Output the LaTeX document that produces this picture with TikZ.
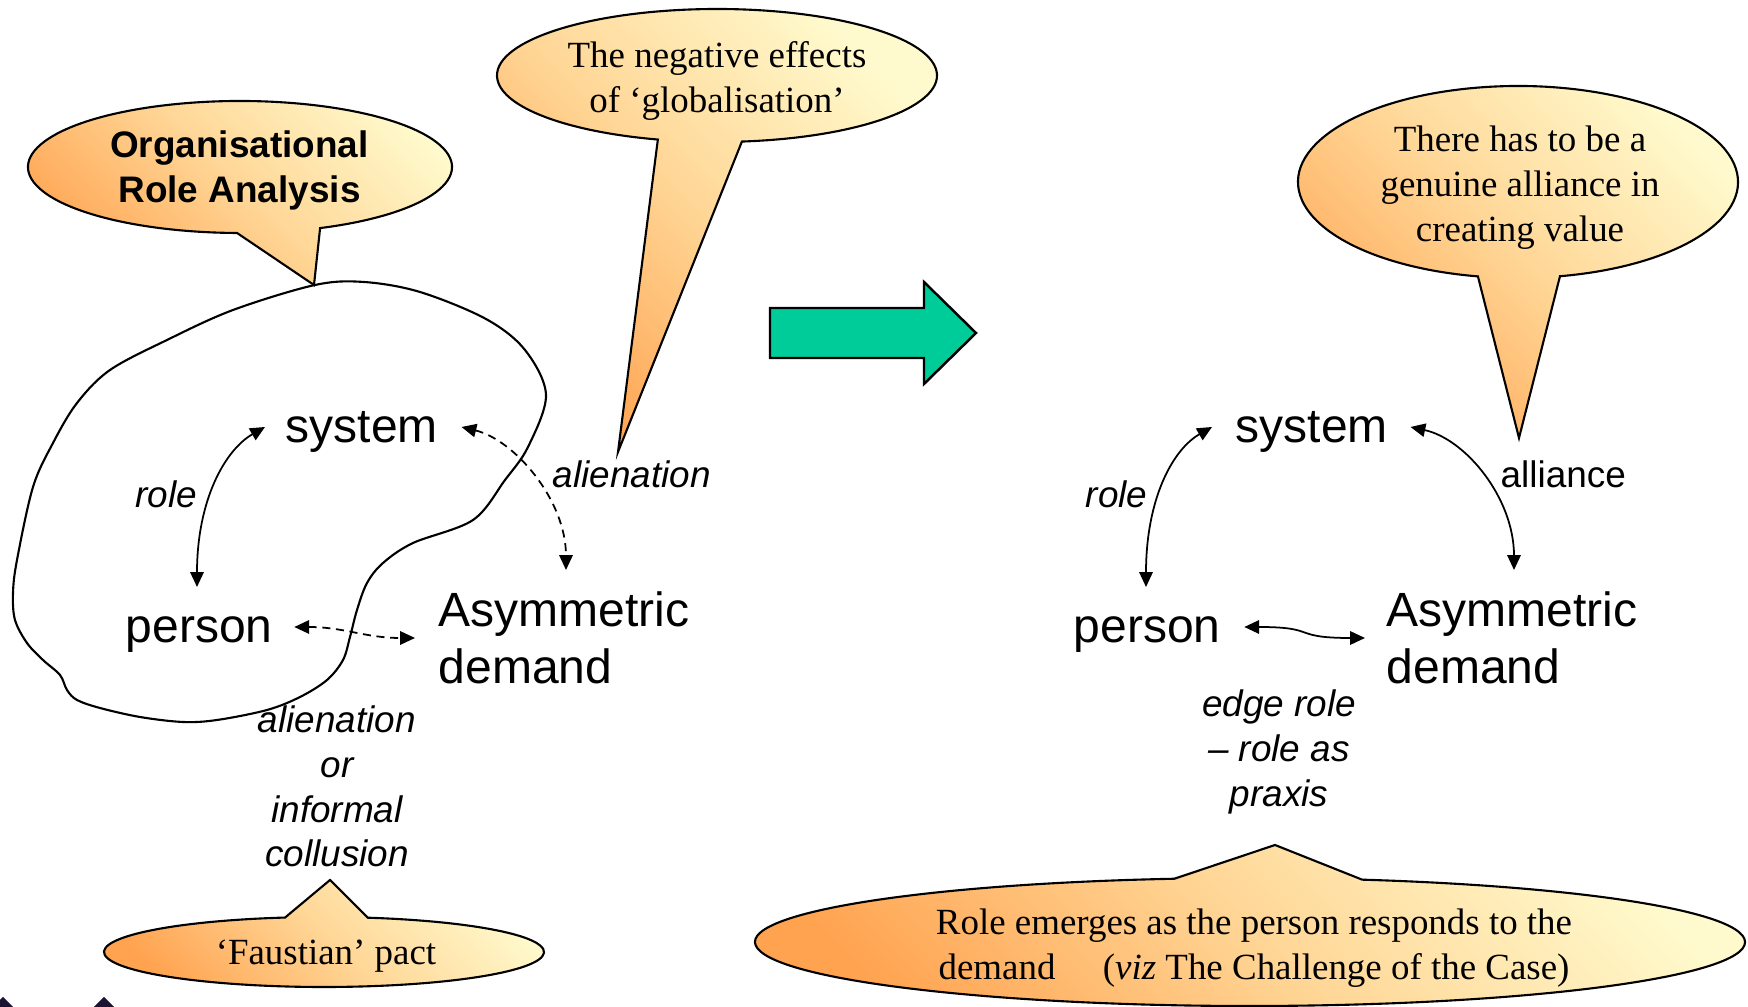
\documentclass[tikz,border=0pt]{standalone}
\usepackage{fontspec}
\setmainfont{Liberation Serif}
\setsansfont{Liberation Sans}
\usetikzlibrary{arrows.meta,calc}

\definecolor{calloutdeep}{RGB}{255,163,80}
\definecolor{calloutmid}{RGB}{255,214,150}
\definecolor{calloutpale}{RGB}{255,250,205}
\definecolor{shiftgreen}{RGB}{0,204,153}
\definecolor{logoink}{RGB}{28,20,51}

\newcommand{\notesize}{\fontsize{10.5}{12.66}\selectfont}
\newcommand{\wordsize}{\fontsize{13.66}{15.93}\selectfont}
\newcommand{\centredlines}[1]{\begin{tabular}[t]{@{}c@{}}#1\end{tabular}}
\newcommand{\leftlines}[1]{\begin{tabular}[t]{@{}l@{}}#1\end{tabular}}

\tikzset{
  callout/.style={draw=black, line width=0.6pt,
    bottom color=calloutdeep, top color=calloutpale, middle color=calloutmid,
    shading angle=-45},
  bubbletext/.style={font=\notesize, inner sep=0pt, anchor=base},
  word/.style={font=\sffamily\wordsize, inner sep=0pt, anchor=base west},
  note/.style={font=\sffamily\itshape\notesize, inner sep=0pt},
  blob/.style={draw=black, line width=0.6pt},
  link/.style={line width=0.5pt,
    {Triangle[length=4.2pt,width=3.8pt]}-{Triangle[length=4.2pt,width=3.8pt]}},
  dashlink/.style={link, dash pattern=on 2.3pt off 1.6pt},
  shiftarrow/.style={draw=black, line width=0.7pt, fill=shiftgreen, line join=miter},
}

\begin{document}
\begin{tikzpicture}[x=0.01cm, y=0.01cm]
\fill[white] (0,0) rectangle (1748,-1007);
\useasboundingbox (0,0) rectangle (1748,-1007);

% boundary of the organisational role
\draw[blob] plot[smooth cycle, tension=0.55] coordinates {
  (315,-285) (364,-282) (420,-292) (486,-319) (525,-350) (546,-395)
  (528,-447) (505,-480) (473,-520) (413,-543) (383,-563) (367,-583)
  (357,-610) (350,-637) (343,-660) (327,-680) (300,-697) (267,-710)
  (217,-720) (183,-722) (140,-717) (100,-708) (77,-700) (67,-690)
  (60,-675) (43,-660) (27,-643) (15,-620) (13,-593) (17,-560)
  (33,-487) (53,-443) (77,-403) (110,-370) (167,-340) (233,-310)};

% speech bubbles
\shade[callout] (240,-167) ++(292.2:212 and 66)
  arc[start angle=292.2, end angle=629.2, x radius=212, y radius=66]
  -- (314,-285) -- cycle;
\shade[callout] (717,-75.5) ++(276.5:220 and 66.5)
  arc[start angle=276.5, end angle=614.4, x radius=220, y radius=66.5]
  -- (618,-452) -- cycle;
\shade[callout] (1518,-182) ++(281:220 and 96)
  arc[start angle=281, end angle=619.5, x radius=220, y radius=96]
  -- (1519,-438) -- cycle;
\shade[callout] (324,-952) ++(100.2:220 and 35)
  arc[start angle=100.2, end angle=438.5, x radius=220, y radius=35]
  -- (330,-880) -- cycle;
\shade[callout] (1250,-942) ++(98.8:495 and 64)
  arc[start angle=98.8, end angle=436.9, x radius=495, y radius=64]
  -- (1275,-845) -- cycle;

\node[bubbletext, font=\sffamily\bfseries\notesize] (oraText) at (239.5,-158)
  {\centredlines{Organisational\\Role Analysis}};
\node[bubbletext] (globText) at (717,-68)
  {\centredlines{The negative effects\\of ‘globalisation’}};
\node[bubbletext] (allianceText) at (1520,-152)
  {\centredlines{There has to be a\\genuine alliance in\\creating value}};
\node[bubbletext] (faustText) at (326,-965) {‘Faustian’ pact};
\node[bubbletext] (emergeText) at (1254,-935)
  {\centredlines{Role emerges as the person responds to the\\
   demand\hspace{13.5pt}(\textit{viz} The Challenge of the Case)}};

% transition arrow
\draw[shiftarrow] (770,-308) -- (924,-308) -- (924,-282) -- (976,-333)
  -- (924,-384) -- (924,-358) -- (770,-358) -- cycle;

% left diagram
\node[word] (sysL) at (285,-443) {system};
\node[word] (perL) at (125,-643) {person};
\node[word] (asyL) at (438,-627) {\leftlines{Asymmetric\\demand}};
\node[note, anchor=base west] (roleL) at (135,-508) {role};
\node[note, anchor=base west] (alienTop) at (552,-488) {alienation};
\node[note, anchor=base] (alienLow) at (337,-733)
  {\centredlines{alienation\\or\\informal\\collusion}};

\draw[link] ($(sysL.base west)+(-20,16)$) .. controls +(-40,-23) and +(0,87)
  .. ($(perL.base west)+(72,56)$);
\draw[dashlink] ($(sysL.base east)+(23,16)$) .. controls +(53,-13) and +(0,70)
  .. ($(asyL.base west)+(128,57)$);
\draw[dashlink] ($(perL.base east)+(21,16)$) .. controls +(50,0) and +(-50,0)
  .. ($(asyL.base west)+(-23,-11)$);

% right diagram
\node[word] (sysR) at (1235,-443) {system};
\node[word] (perR) at (1073,-643) {person};
\node[word] (asyR) at (1386,-627) {\leftlines{Asymmetric\\demand}};
\node[note, anchor=base west] (roleR) at (1085,-508) {role};
\node[font=\sffamily\notesize, inner sep=0pt, anchor=base west] (allianceLbl)
  at (1500,-488) {alliance};
\node[note, anchor=base] (edgeRole) at (1279,-717)
  {\centredlines{edge role\\– role as\\praxis}};

\draw[link] ($(sysR.base west)+(-23,16)$) .. controls +(-40,-23) and +(0,87)
  .. ($(perR.base west)+(73,56)$);
\draw[link] ($(sysR.base east)+(22,16)$) .. controls +(55,-12) and +(0,72)
  .. ($(asyR.base west)+(128,57)$);
\draw[link] ($(perR.base east)+(23,16)$) .. controls +(75,0) and +(-75,0)
  .. ($(asyR.base west)+(-21,-11)$);

% corner marks
\fill[logoink] (3,-997) -- (14,-1008) -- (-8,-1008) -- cycle;
\fill[logoink] (104,-997) -- (115,-1008) -- (93,-1008) -- cycle;
\end{tikzpicture}
\end{document}
